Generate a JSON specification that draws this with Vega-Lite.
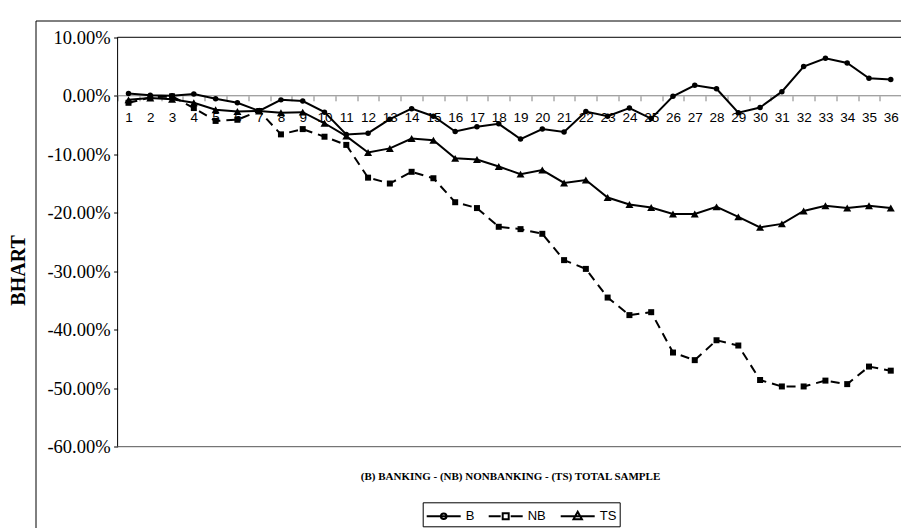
{
  "$schema": "https://vega.github.io/schema/vega-lite/v6.json",
  "autosize": "none",
  "width": 865.5,
  "height": 507.5,
  "padding": {"left": 35.5, "top": 20.5, "right": 0, "bottom": 0},
  "background": "white",
  "config": {
    "view": {"stroke": "black", "strokeWidth": 1, "fill": "white"},
    "axis": {"grid": false, "domain": false, "labelColor": "black", "titleColor": "black"}
  },
  "resolve": {"axis": {"x": "independent", "y": "independent"}},
  "data": {
    "values": [
      {"t": 1, "B": 0.004, "NB": -0.012, "TS": -0.007},
      {"t": 2, "B": 0.001, "NB": -0.003, "TS": -0.004},
      {"t": 3, "B": 0.000, "NB": -0.001, "TS": -0.006},
      {"t": 4, "B": 0.003, "NB": -0.021, "TS": -0.012},
      {"t": 5, "B": -0.005, "NB": -0.043, "TS": -0.024},
      {"t": 6, "B": -0.012, "NB": -0.041, "TS": -0.027},
      {"t": 7, "B": -0.026, "NB": -0.026, "TS": -0.026},
      {"t": 8, "B": -0.007, "NB": -0.066, "TS": -0.029},
      {"t": 9, "B": -0.009, "NB": -0.057, "TS": -0.028},
      {"t": 10, "B": -0.028, "NB": -0.070, "TS": -0.047},
      {"t": 11, "B": -0.066, "NB": -0.084, "TS": -0.069},
      {"t": 12, "B": -0.064, "NB": -0.140, "TS": -0.097},
      {"t": 13, "B": -0.040, "NB": -0.150, "TS": -0.090},
      {"t": 14, "B": -0.022, "NB": -0.130, "TS": -0.073},
      {"t": 15, "B": -0.035, "NB": -0.141, "TS": -0.076},
      {"t": 16, "B": -0.061, "NB": -0.182, "TS": -0.107},
      {"t": 17, "B": -0.053, "NB": -0.192, "TS": -0.109},
      {"t": 18, "B": -0.048, "NB": -0.224, "TS": -0.121},
      {"t": 19, "B": -0.074, "NB": -0.228, "TS": -0.134},
      {"t": 20, "B": -0.057, "NB": -0.236, "TS": -0.127},
      {"t": 21, "B": -0.062, "NB": -0.281, "TS": -0.149},
      {"t": 22, "B": -0.027, "NB": -0.296, "TS": -0.144},
      {"t": 23, "B": -0.035, "NB": -0.345, "TS": -0.174},
      {"t": 24, "B": -0.021, "NB": -0.375, "TS": -0.186},
      {"t": 25, "B": -0.039, "NB": -0.370, "TS": -0.191},
      {"t": 26, "B": -0.001, "NB": -0.439, "TS": -0.202},
      {"t": 27, "B": 0.018, "NB": -0.452, "TS": -0.202},
      {"t": 28, "B": 0.012, "NB": -0.418, "TS": -0.190},
      {"t": 29, "B": -0.029, "NB": -0.427, "TS": -0.207},
      {"t": 30, "B": -0.020, "NB": -0.486, "TS": -0.225},
      {"t": 31, "B": 0.007, "NB": -0.497, "TS": -0.219},
      {"t": 32, "B": 0.050, "NB": -0.497, "TS": -0.197},
      {"t": 33, "B": 0.064, "NB": -0.487, "TS": -0.188},
      {"t": 34, "B": 0.056, "NB": -0.493, "TS": -0.192},
      {"t": 35, "B": 0.030, "NB": -0.463, "TS": -0.188},
      {"t": 36, "B": 0.028, "NB": -0.470, "TS": -0.192}
    ]
  },
  "layer": [
    {
      "data": {"values": [{}]},
      "mark": {"type": "rule", "color": "black", "strokeWidth": 1},
      "encoding": {
        "x": {"datum": 0.5, "type": "quantitative", "axis": null},
        "y": {"datum": -0.6, "type": "quantitative", "axis": null},
        "y2": {"datum": 0.1}
      }
    },
    {
      "data": {"values": [{}]},
      "mark": {"type": "rule", "color": "black", "strokeWidth": 1},
      "encoding": {
        "x": {"datum": 0.5, "type": "quantitative", "axis": null},
        "x2": {"datum": 36.5},
        "y": {"datum": 0.1, "type": "quantitative", "axis": null}
      }
    },
    {
      "data": {"values": [{}]},
      "mark": {"type": "rule", "color": "#555555", "strokeWidth": 1},
      "encoding": {
        "x": {"datum": 0.5, "type": "quantitative", "axis": null},
        "x2": {"datum": 36.5},
        "y": {"datum": -0.6, "type": "quantitative", "axis": null}
      }
    },
    {
      "data": {"values": [{}]},
      "mark": {"type": "rule", "color": "#808080", "strokeWidth": 1},
      "encoding": {
        "x": {"datum": 0.5, "type": "quantitative", "axis": null},
        "x2": {"datum": 36.5},
        "y": {"datum": 0, "type": "quantitative", "axis": null}
      }
    },
    {
      "transform": [{"fold": ["B", "NB", "TS"], "as": ["s", "v"]}, {"filter": "datum.s !== 'NB'"}],
      "mark": {"type": "line", "strokeWidth": 2, "color": "black"},
      "encoding": {
        "x": {
          "field": "t", "type": "quantitative",
          "scale": {"domain": [-3.27, 36.47], "nice": false, "zero": false},
          "axis": {
            "orient": "bottom", "offset": -432.2,
            "values": [1,2,3,4,5,6,7,8,9,10,11,12,13,14,15,16,17,18,19,20,21,22,23,24,25,26,27,28,29,30,31,32,33,34,35,36],
            "format": "d", "domain": false, "grid": false, "ticks": true,
            "tickSize": 5, "tickOffset": -10.89, "labelOffset": 10.89, "tickColor": "#808080",
            "labelFont": "Liberation Sans Narrow, Liberation Sans", "labelFontSize": 13.5, "labelColor": "black",
            "labelPadding": 10, "labelFlush": false, "labelOverlap": false, "labelBound": false,
            "title": "(B) BANKING - (NB) NONBANKING - (TS) TOTAL SAMPLE",
            "titleFont": "Liberation Serif", "titleFontWeight": "bold", "titleFontSize": 11, "titleColor": "black",
            "titleX": 474.5, "titleY": 380.9, "titleBaseline": "middle", "titleAlign": "center"
          }
        },
        "y": {
          "field": "v", "type": "quantitative",
          "scale": {"domain": [-0.739, 0.1287], "nice": false, "zero": false},
          "axis": {
            "orient": "left", "offset": -82.1,
            "values": [-0.6, -0.5, -0.4, -0.3, -0.2, -0.1, 0, 0.1],
            "labelExpr": "replace(format(datum.value, '.2%'), '\u2212', '-')",
            "domain": false, "grid": false, "ticks": true, "tickSize": 4, "tickColor": "black",
            "labelFont": "Liberation Serif", "labelFontSize": 18.5, "labelColor": "black", "labelPadding": 3.5, "labelOverlap": false,
            "title": "BHART", "titleFont": "Liberation Serif", "titleFontWeight": "bold", "titleFontSize": 20, "titleColor": "black",
            "titleX": -99.3, "titleY": 249.5, "titleAngle": 270, "titleBaseline": "middle", "titleAlign": "center"
          }
        },
        "detail": {"field": "s"}
      }
    },
    {
      "transform": [{"fold": ["B", "NB", "TS"], "as": ["s", "v"]}, {"filter": "datum.s === 'NB'"}],
      "mark": {"type": "line", "strokeWidth": 2, "strokeDash": [9, 6], "color": "black"},
      "encoding": {
        "x": {"field": "t", "type": "quantitative", "axis": null},
        "y": {"field": "v", "type": "quantitative", "axis": null}
      }
    },
    {
      "transform": [{"fold": ["B", "NB", "TS"], "as": ["s", "v"]}, {"filter": "datum.s === 'B'"}],
      "mark": {"type": "point", "shape": "circle", "filled": true, "color": "black", "opacity": 1, "size": 30},
      "encoding": {
        "x": {"field": "t", "type": "quantitative", "axis": null},
        "y": {"field": "v", "type": "quantitative", "axis": null}
      }
    },
    {
      "transform": [{"fold": ["B", "NB", "TS"], "as": ["s", "v"]}, {"filter": "datum.s === 'NB'"}],
      "mark": {"type": "point", "shape": "square", "filled": true, "color": "black", "opacity": 1, "size": 36},
      "encoding": {
        "x": {"field": "t", "type": "quantitative", "axis": null},
        "y": {"field": "v", "type": "quantitative", "axis": null}
      }
    },
    {
      "transform": [{"fold": ["B", "NB", "TS"], "as": ["s", "v"]}, {"filter": "datum.s === 'TS'"}],
      "mark": {"type": "point", "shape": "triangle-up", "filled": true, "color": "black", "opacity": 1, "size": 64},
      "encoding": {
        "x": {"field": "t", "type": "quantitative", "axis": null},
        "y": {"field": "v", "type": "quantitative", "axis": null}
      }
    },
    {
      "transform": [{"fold": ["B", "NB", "TS"], "as": ["s", "v"]}],
      "mark": {"type": "point", "filled": false, "color": "black", "opacity": 0},
      "encoding": {
        "x": {"field": "t", "type": "quantitative", "axis": null},
        "y": {"field": "v", "type": "quantitative", "axis": null},
        "shape": {
          "field": "s", "type": "nominal",
          "scale": {
            "domain": ["B", "NB", "TS"],
            "range": [
              "M-1,0H2.4M0.42,0A0.28,0.28,0,1,1,0.98,0A0.28,0.28,0,1,1,0.42,0Z",
              "M-1,0H0.2M1.2,0H2.4M0.4,-0.3H1V0.3H0.4Z",
              "M-1,0H2.4M0.7,-0.45L1.12,0.3H0.28Z"
            ]
          },
          "legend": {
            "orient": "none", "legendX": 387.2, "legendY": 481.8,
            "direction": "horizontal", "title": null, "gridAlign": "each",
            "strokeColor": "black", "padding": 3, "fillColor": "white",
            "symbolSize": 400, "labelOffset": 18, "columnPadding": 10,
            "labelFont": "Liberation Sans Narrow, Liberation Sans", "labelFontSize": 13, "labelColor": "black",
            "symbolFillColor": "black", "symbolStrokeColor": "black", "symbolStrokeWidth": 2, "symbolOpacity": 1
          }
        }
      }
    }
  ]
}
